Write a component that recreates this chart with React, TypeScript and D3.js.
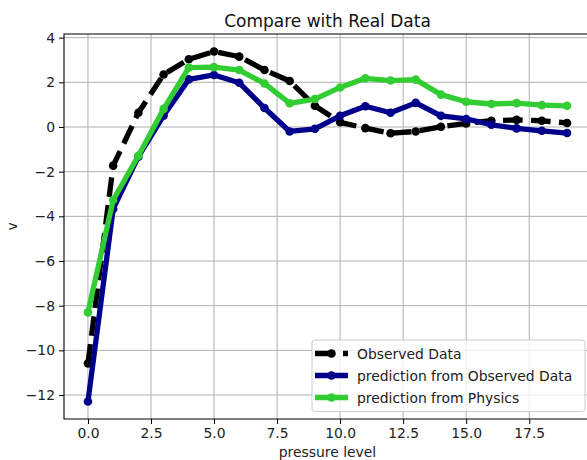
import React, { useRef, useEffect } from 'react';
import * as d3 from 'd3';

// pressure levels 0..19
const levels = [0, 1, 2, 3, 4, 5, 6, 7, 8, 9, 10, 11, 12, 13, 14, 15, 16, 17, 18, 19];

const observed = [
  -10.59, -1.73, 0.64, 2.35, 3.03, 3.38, 3.15, 2.55, 2.06, 0.95,
  0.21, -0.05, -0.28, -0.2, 0.01, 0.16, 0.28, 0.32, 0.28, 0.18,
];
const predObserved = [
  -12.29, -3.67, -1.33, 0.51, 2.13, 2.33, 1.98, 0.85, -0.2, -0.08,
  0.5, 0.93, 0.64, 1.08, 0.5, 0.36, 0.1, -0.06, -0.17, -0.27,
];
const predPhysics = [
  -8.3, -3.27, -1.29, 0.81, 2.66, 2.68, 2.55, 1.95, 1.06, 1.25,
  1.77, 2.18, 2.08, 2.12, 1.45, 1.13, 1.03, 1.07, 0.98, 0.95,
];

const seriesNames = ['Observed Data', 'prediction from Observed Data', 'prediction from Physics'];
const xTicks = [0, 2.5, 5, 7.5, 10, 12.5, 15, 17.5];
const yTicks = [-12, -10, -8, -6, -4, -2, 0, 2, 4];

const FONT = 'DejaVu Sans, sans-serif';
const FS = 13.9;
const LW = 5.3;

const App = () => {
  const svgRef = useRef<SVGSVGElement>(null);

  useEffect(() => {
    document.body.style.margin = '0';
    const svg = d3.select(svgRef.current);
    svg.selectAll('*').remove();

    const width = 587;
    const height = 460;
    const margin = { top: 34, right: -4, bottom: 41, left: 64 }; // right spine sits just off the image

    svg.attr('width', width).attr('height', height);

    const series = [
      { name: seriesNames[0], values: observed, color: '#000000', dash: '19.6,8.4' },
      { name: seriesNames[1], values: predObserved, color: '#00008b', dash: null },
      { name: seriesNames[2], values: predPhysics, color: '#32cd32', dash: null },
    ];

    // matplotlib style 5% margins
    const allY = series.flatMap(s => s.values);
    const yMin = d3.min(allY) as number;
    const yMax = d3.max(allY) as number;
    const yPad = (yMax - yMin) * 0.05;
    const xPad = (levels[levels.length - 1] - levels[0]) * 0.05;

    const x = d3.scaleLinear()
      .domain([levels[0] - xPad, levels[levels.length - 1] + xPad])
      .range([margin.left, width - margin.right]);

    const y = d3.scaleLinear()
      .domain([yMin - yPad, yMax + yPad])
      .range([height - margin.bottom, margin.top]);

    const plotTop = margin.top;
    const plotBottom = height - margin.bottom;
    const plotLeft = margin.left;
    const plotRight = width - margin.right;

    // grid
    const grid = svg.append('g').attr('stroke', '#b0b0b0').attr('stroke-width', 1);
    grid.selectAll('line.vx')
      .data(xTicks)
      .join('line')
      .attr('x1', d => x(d)).attr('x2', d => x(d))
      .attr('y1', plotTop).attr('y2', plotBottom);
    grid.selectAll('line.hy')
      .data(yTicks)
      .join('line')
      .attr('x1', plotLeft).attr('x2', plotRight)
      .attr('y1', d => y(d)).attr('y2', d => y(d));

    // lines + markers
    const line = d3.line<number>()
      .x((_, i) => x(levels[i]))
      .y(d => y(d));

    series.forEach(s => {
      const g = svg.append('g');
      g.append('path')
        .datum(s.values)
        .attr('d', line)
        .attr('fill', 'none')
        .attr('stroke', s.color)
        .attr('stroke-width', LW)
        .attr('stroke-linejoin', 'round')
        .attr('stroke-dasharray', s.dash);
      g.selectAll('circle')
        .data(s.values)
        .join('circle')
        .attr('cx', (_, i) => x(levels[i]))
        .attr('cy', d => y(d))
        .attr('r', 4.3)
        .attr('fill', s.color);
    });

    // axes
    const xAxis = svg.append('g')
      .attr('transform', `translate(0, ${plotBottom})`)
      .call(d3.axisBottom(x).tickValues(xTicks).tickFormat(d3.format('.1f')).tickSize(5).tickPadding(4));
    const yAxis = svg.append('g')
      .attr('transform', `translate(${plotLeft}, 0)`)
      .call(d3.axisLeft(y).tickValues(yTicks).tickFormat(d => d3.format('d')(d as number).replace('-', '\u2212')).tickSize(5).tickPadding(4));

    [xAxis, yAxis].forEach(a => {
      a.select('.domain').remove();
      a.selectAll('line').attr('stroke', '#000').attr('stroke-width', 1);
      a.selectAll('text')
        .attr('font-family', FONT)
        .attr('font-size', FS)
        .attr('fill', '#222');
    });

    // spines
    svg.append('path')
      .attr('d', `M${plotRight},${plotTop}H${plotLeft}V${plotBottom}H${plotRight}`)
      .attr('fill', 'none')
      .attr('stroke', '#000')
      .attr('stroke-width', 1.1);

    // Title
    svg.append('text')
      .attr('x', (plotLeft + plotRight) / 2)
      .attr('y', 27)
      .attr('text-anchor', 'middle')
      .attr('font-family', FONT)
      .attr('font-size', 17)
      .attr('fill', '#111')
      .text('Compare with Real Data');

    svg.append('text')
      .attr('x', (plotLeft + plotRight) / 2)
      .attr('y', 457)
      .attr('text-anchor', 'middle')
      .attr('font-family', FONT)
      .attr('font-size', FS)
      .attr('fill', '#222')
      .text('pressure level');

    svg.append('text')
      .attr('transform', `translate(17, ${(plotTop + plotBottom) / 2}) rotate(-90)`)
      .attr('text-anchor', 'middle')
      .attr('font-family', FONT)
      .attr('font-size', FS)
      .attr('fill', '#222')
      .text('v');

    // Legend
    const legend = svg.append('g').attr('transform', 'translate(312, 340)');
    legend.append('rect')
      .attr('width', 273)
      .attr('height', 71.5)
      .attr('rx', 3)
      .attr('fill', 'white')
      .attr('fill-opacity', 0.8)
      .attr('stroke', '#cccccc');

    series.forEach((s, i) => {
      const cy = 13.5 + i * 22;
      legend.append('line')
        .attr('x1', 3).attr('x2', 36)
        .attr('y1', cy).attr('y2', cy)
        .attr('stroke', s.color)
        .attr('stroke-width', LW)
        .attr('stroke-dasharray', s.dash);
      legend.append('circle')
        .attr('cx', 19.5).attr('cy', cy).attr('r', 4.3)
        .attr('fill', s.color);
      legend.append('text')
        .attr('x', 45)
        .attr('y', cy + 5)
        .attr('font-family', FONT)
        .attr('font-size', FS)
        .attr('fill', '#222')
        .text(s.name);
    });
  }, []);

  return <svg ref={svgRef}></svg>;
};

export default App;
